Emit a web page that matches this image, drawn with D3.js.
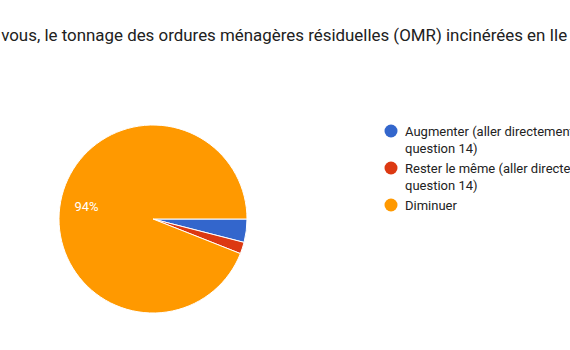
<!DOCTYPE html>
<html>
<head>
<meta charset="utf-8">
<script src="https://d3js.org/d3.v7.min.js"></script>
<style>
  body { margin: 0; background: #fff; }
  text { font-family: Roboto, Arial, sans-serif; }
</style>
</head>
<body>
<svg id="vis"></svg>
<script>
  // data
  var categories = ["Augmenter (aller directement à la question 14)",
                    "Rester le même (aller directement à la question 14)",
                    "Diminuer"];
  var legendLines = [["Augmenter (aller directement à la", "question 14)"],
                     ["Rester le même (aller directement à la", "question 14)"],
                     ["Diminuer"]];
  var values = [2, 1, 47];
  var colors = ["#3366cc", "#dc3912", "#ff9900"];
  var titleText = "Selon vous, le tonnage des ordures ménagères résiduelles (OMR) incinérées en Ile de France va-t-il :";

  var width = 570, height = 350;
  var cx = 153, cy = 219, radius = 94;

  var svg = d3.select("#vis")
    .attr("width", width)
    .attr("height", height);

  // title (cut off on both sides like the original)
  var title = svg.append("text")
    .attr("y", 41)
    .attr("fill", "#212121")
    .style("font-size", "16.9px")
    .text(titleText);
  var probe = svg.append("text").style("font-size", "16.9px").text("Selon ");
  var off = probe.node().getComputedTextLength();
  probe.remove();
  title.attr("x", -off - 3);

  // pie
  var pie = d3.pie().sort(null).value(function(d) { return d; })
    .startAngle(Math.PI / 2).endAngle(Math.PI / 2 + 2 * Math.PI);
  var arc = d3.arc().innerRadius(0).outerRadius(radius);
  var labelArc = d3.arc().innerRadius(radius * 0.72).outerRadius(radius * 0.72);
  var total = d3.sum(values);

  var g = svg.append("g").attr("transform", "translate(" + cx + "," + cy + ")");
  var arcs = pie(values);

  g.selectAll("path")
    .data(arcs)
    .enter().append("path")
    .attr("d", arc)
    .attr("fill", function(d, i) { return colors[i]; })
    .attr("stroke", "#fff")
    .attr("stroke-width", 1);

  g.selectAll(".lbl")
    .data(arcs.filter(function(d) { return d.value / total > 0.05; }))
    .enter().append("text")
    .attr("class", "lbl")
    .attr("transform", function(d) { return "translate(" + labelArc.centroid(d) + ")"; })
    .attr("text-anchor", "middle")
    .attr("dy", "0.35em")
    .attr("fill", "#fff")
    .style("font-size", "13px")
    .text(function(d) { return Math.round(d.value / total * 100) + "%"; });

  // legend
  var legendY = [131, 168, 205];
  var legend = svg.append("g");
  categories.forEach(function(c, i) {
    var item = legend.append("g").attr("transform", "translate(0," + legendY[i] + ")");
    item.append("circle")
      .attr("cx", 391).attr("cy", 0).attr("r", 6.5)
      .attr("fill", colors[i]);
    legendLines[i].forEach(function(line, j) {
      item.append("text")
        .attr("x", 405)
        .attr("y", j * 17)
        .attr("dy", "0.35em")
        .attr("fill", "#222")
        .style("font-size", "13px")
        .text(line);
    });
  });
</script>
</body>
</html>
